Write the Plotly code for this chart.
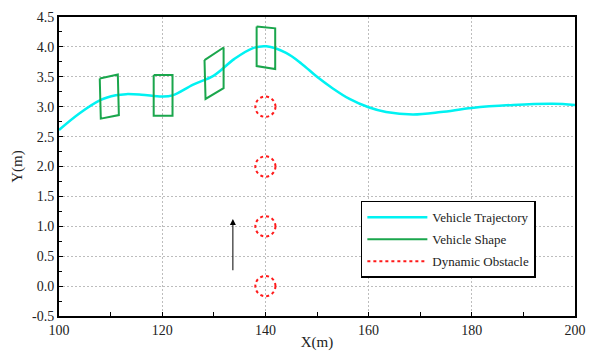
import plotly.graph_objects as go

# Planned vehicle path
traj_x = [100, 104, 108, 111, 113, 116, 120, 122, 126, 130, 134, 137.6, 140.2,
          144, 147, 150, 153, 156.3, 160, 163.4, 168.6, 174, 180, 188, 195.7, 200]
traj_y = [2.61, 2.89, 3.11, 3.19, 3.21, 3.2, 3.17, 3.19, 3.37, 3.52, 3.8, 3.98, 4.01,
          3.9, 3.72, 3.5, 3.31, 3.13, 2.99, 2.91, 2.87, 2.91, 2.98, 3.03, 3.05, 3.03]

# Vehicle footprints (corner points, clockwise from top-left)
shape_x = [
    [107.9, 111.4, 111.6, 108.1],
    [118.35, 122.0, 122.0, 118.35],
    [128.2, 131.9, 131.9, 128.4],
    [138.3, 141.9, 141.9, 138.3],
]
shape_y = [
    [3.47, 3.54, 2.86, 2.80],
    [3.53, 3.53, 2.85, 2.85],
    [3.78, 3.99, 3.31, 3.13],
    [4.34, 4.31, 3.63, 3.68],
]

# Dynamic obstacle positions and radii
obs_x = [140, 140, 140, 140]
obs_y = [0, 1, 2, 3]
obs_rx = 1.95
obs_ry = 0.17

# Motion direction arrow of the obstacle
arrow_x = 133.7
arrow_y0 = 0.24
arrow_y1 = 1.12

x_ticks = [100, 120, 140, 160, 180, 200]
y_ticks = [-0.5, 0.0, 0.5, 1.0, 1.5, 2.0, 2.5, 3.0, 3.5, 4.0, 4.5]

CYAN = "#00f2f2"
GREEN = "#1aa64c"
RED = "#ff1a1a"
FONT = "'Liberation Serif', 'Times New Roman', serif"

fig = go.Figure()

fig.add_trace(go.Scatter(
    x=traj_x, y=traj_y, mode="lines", name="Vehicle Trajectory",
    line=dict(color=CYAN, width=2.5, shape="spline", smoothing=1.0),
    legendgroup="a",
))

sx, sy = [], []
for xs, ys in zip(shape_x, shape_y):
    sx += xs + [xs[0], None]
    sy += ys + [ys[0], None]
fig.add_trace(go.Scatter(
    x=sx, y=sy, mode="lines", name="Vehicle Shape",
    line=dict(color=GREEN, width=2), legendgroup="b",
))

fig.add_trace(go.Scatter(
    x=[None], y=[None], mode="lines", name="Dynamic Obstacle",
    line=dict(color=RED, width=2, dash="dot"), legendgroup="c",
))

shapes = []
for cx, cy in zip(obs_x, obs_y):
    shapes.append(dict(
        type="circle", xref="x", yref="y",
        x0=cx - obs_rx, x1=cx + obs_rx, y0=cy - obs_ry, y1=cy + obs_ry,
        line=dict(color=RED, width=2, dash="dot"),
    ))

fig.add_annotation(
    x=arrow_x, y=arrow_y1, ax=arrow_x, ay=arrow_y0,
    xref="x", yref="y", axref="x", ayref="y",
    showarrow=True, arrowhead=2, arrowsize=1.2, arrowwidth=1, arrowcolor="black",
    text="",
)

axis_common = dict(
    showline=True, linecolor="black", linewidth=2, mirror=True,
    ticks="inside", ticklen=4, tickwidth=1, tickcolor="black",
    showgrid=True, gridcolor="#bdbdbd", gridwidth=1, griddash="2px,2px",
    zeroline=False, automargin=False,
    tickfont=dict(family=FONT, size=14, color="#222"),
    title_font=dict(family=FONT, size=15, color="#222"),
)

fig.update_xaxes(
    range=[100, 200], tickvals=x_ticks, ticktext=[str(v) for v in x_ticks],
    title_text="X(m)", title_standoff=0,
    minor=dict(dtick=10, ticks="inside", ticklen=4, tickcolor="black", showgrid=False),
    **axis_common,
)
fig.update_yaxes(
    range=[-0.5, 4.5], tickvals=y_ticks, ticktext=[f"{v:.1f}" for v in y_ticks],
    title_text="Y(m)", title_standoff=6,
    minor=dict(dtick=0.25, ticks="inside", ticklen=3, tickcolor="black", showgrid=False),
    **axis_common,
)

fig.update_layout(
    width=599, height=352,
    margin=dict(l=59, r=24, t=17, b=36),
    paper_bgcolor="white", plot_bgcolor="white",
    shapes=shapes,
    showlegend=True,
    legend=dict(
        x=0.585, y=0.385, xanchor="left", yanchor="top",
        bgcolor="white", bordercolor="black", borderwidth=1.5,
        font=dict(family=FONT, size=13, color="#222"),
        tracegroupgap=2, itemwidth=60,
    ),
)

fig.write_html("out.html")
